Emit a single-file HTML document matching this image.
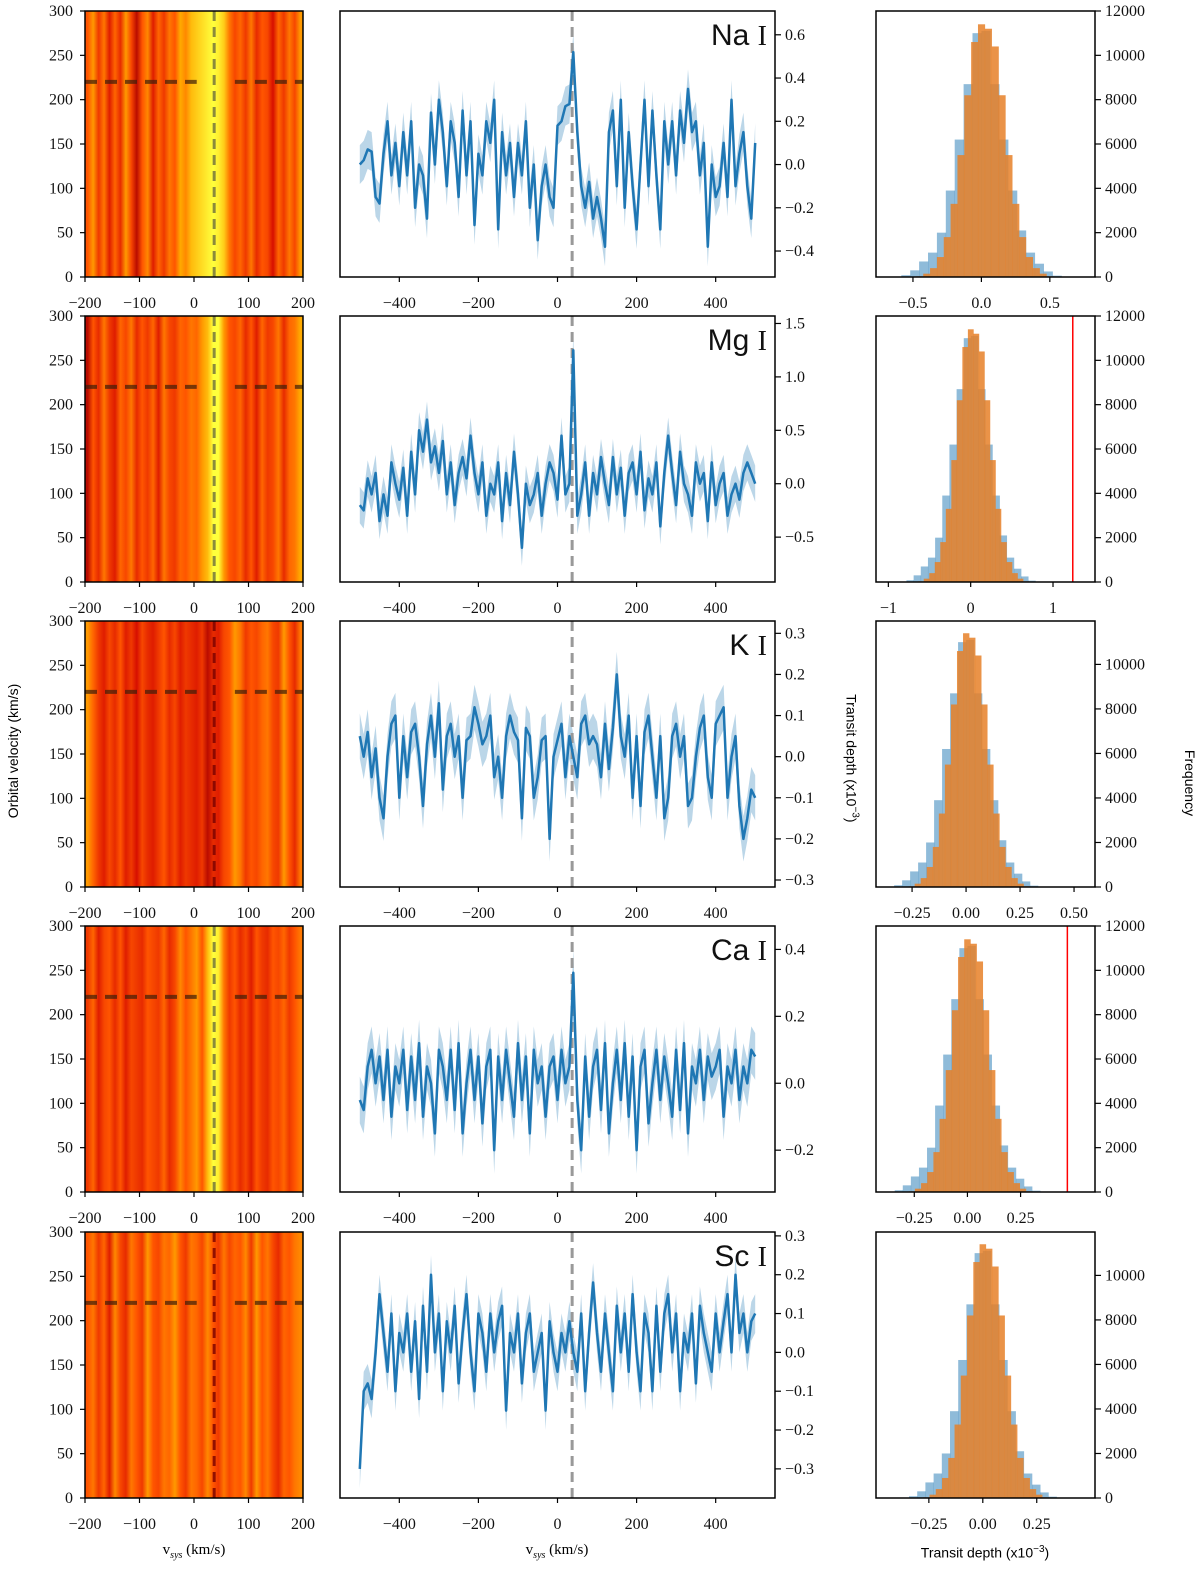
<!DOCTYPE html>
<html><head><meta charset="utf-8"><style>
html,body{margin:0;padding:0;background:#fff;}
svg{display:block;}
text{font-family:"Liberation Serif",serif;font-size:16px;fill:#111;}
.sans{font-family:"Liberation Sans","DejaVu Sans",sans-serif;}
</style></head><body>
<svg id="fig" width="1200" height="1596" viewBox="0 0 1200 1596" xmlns="http://www.w3.org/2000/svg"><defs id="defs"></defs></svg>
<script>
const species = ["Na","Mg","K","Ca","Sc"];
const velocities = [-500,-490,-480,-470,-460,-450,-440,-430,-420,-410,-400,-390,-380,-370,-360,-350,-340,-330,-320,-310,-300,-290,-280,-270,-260,-250,-240,-230,-220,-210,-200,-190,-180,-170,-160,-150,-140,-130,-120,-110,-100,-90,-80,-70,-60,-50,-40,-30,-20,-10,0,10,20,30,40,50,60,70,80,90,100,110,120,130,140,150,160,170,180,190,200,210,220,230,240,250,260,270,280,290,300,310,320,330,340,350,360,370,380,390,400,410,420,430,440,450,460,470,480,490,500];
const depthNa = [0.0,0.02,0.07,0.06,-0.15,-0.18,0.05,0.2,-0.05,0.1,-0.1,0.15,-0.05,0.2,-0.2,0.0,-0.05,-0.25,0.24,0.0,0.3,0.15,-0.1,0.2,0.1,-0.15,0.25,-0.05,0.2,-0.28,0.05,-0.05,0.2,0.1,0.3,-0.3,0.15,-0.05,0.1,-0.15,0.1,-0.05,0.2,-0.2,0.0,-0.35,-0.1,0.0,-0.15,-0.2,0.18,0.2,0.27,0.28,0.52,0.15,-0.1,-0.2,-0.08,-0.25,-0.15,-0.25,-0.38,0.15,0.25,-0.1,0.3,-0.2,0.15,-0.1,-0.3,0.0,0.3,-0.1,0.25,-0.05,-0.3,0.2,0.0,0.2,-0.05,0.25,0.1,0.35,0.15,0.2,-0.05,0.1,-0.38,0.0,-0.15,-0.1,0.1,-0.15,0.3,-0.1,0.05,0.15,-0.1,-0.25,0.1];
const depthMg = [-0.2,-0.25,0.05,-0.1,0.1,-0.35,-0.1,-0.3,0.2,0.0,-0.15,0.15,-0.3,0.3,-0.1,0.5,0.3,0.6,0.2,0.35,0.1,0.4,-0.1,0.2,-0.2,0.1,0.25,0.05,0.45,0.1,-0.1,0.2,-0.3,0.0,-0.1,0.2,-0.35,0.1,-0.2,0.3,-0.1,-0.6,0.0,-0.2,-0.1,0.1,-0.3,0.0,0.2,0.1,-0.15,0.45,-0.1,0.0,1.25,-0.3,-0.1,0.2,-0.3,0.1,-0.1,0.25,0.0,-0.2,0.25,-0.1,0.15,-0.3,0.1,0.2,-0.1,0.3,-0.25,0.05,-0.1,0.2,-0.4,0.1,0.45,0.1,-0.2,0.3,0.0,-0.1,-0.3,0.2,0.0,0.1,-0.35,0.2,-0.2,0.0,0.1,-0.3,-0.1,0.0,-0.15,0.1,0.2,0.1,0.0];
const depthK = [0.05,0.0,0.06,-0.05,0.02,-0.1,-0.15,0.0,0.08,0.1,-0.1,0.05,-0.05,0.06,0.08,0.0,-0.12,0.03,0.1,0.0,0.13,-0.08,0.05,0.08,0.0,0.05,-0.1,0.04,0.05,0.12,0.08,0.03,0.05,0.1,-0.05,0.0,-0.1,0.05,0.1,0.06,0.04,-0.15,0.07,0.05,-0.1,-0.05,0.04,0.05,-0.2,0.0,0.04,0.08,-0.05,0.05,0.0,-0.05,0.08,0.1,0.03,0.05,0.03,-0.05,0.08,-0.03,0.07,0.2,0.05,0.0,0.1,-0.1,0.05,-0.12,0.06,0.1,0.0,-0.1,0.05,-0.15,-0.1,0.05,0.08,0.0,0.05,-0.12,-0.1,0.0,0.07,0.1,-0.05,-0.1,0.08,0.1,0.12,-0.1,0.0,0.05,-0.12,-0.2,-0.15,-0.08,-0.1];
const depthCa = [-0.05,-0.08,0.05,0.1,0.0,0.08,-0.05,0.1,-0.1,0.05,0.0,0.1,-0.08,0.08,-0.05,0.12,-0.1,0.05,0.0,-0.15,0.1,0.05,-0.05,0.1,-0.08,0.12,-0.15,0.0,0.1,-0.05,0.08,-0.12,0.05,0.1,-0.2,0.08,-0.05,0.1,0.0,-0.1,0.12,-0.05,0.08,-0.15,0.1,0.0,0.05,-0.1,0.05,0.08,-0.05,0.1,0.0,0.05,0.33,-0.05,-0.2,0.08,-0.1,0.05,0.1,-0.08,0.12,-0.15,0.0,0.1,-0.05,0.12,-0.1,0.08,-0.2,0.05,0.1,-0.12,0.0,0.1,-0.05,0.08,0.0,-0.1,0.1,-0.08,0.12,-0.15,0.05,0.0,0.1,-0.05,0.08,0.02,0.05,0.1,-0.1,0.05,0.0,0.1,-0.05,0.05,0.0,0.1,0.08];
const depthSc = [-0.3,-0.1,-0.08,-0.12,0.0,0.15,0.05,-0.05,0.1,-0.1,0.05,0.0,0.1,-0.05,0.08,-0.12,0.12,-0.05,0.2,0.0,0.1,-0.1,0.08,0.0,0.12,-0.08,0.05,0.15,0.0,-0.1,0.1,0.05,-0.05,0.1,0.0,0.08,0.12,-0.15,0.05,0.0,0.1,-0.08,0.05,0.1,-0.05,0.0,0.05,-0.15,0.08,0.0,-0.05,0.05,0.0,0.08,0.0,-0.05,0.1,-0.1,0.05,0.18,0.05,-0.05,0.1,0.0,-0.1,0.12,0.0,0.1,-0.05,0.15,0.0,-0.1,0.1,0.05,-0.1,0.12,-0.05,0.1,0.15,0.0,0.1,-0.1,0.05,0.0,0.1,-0.08,0.12,0.05,0.0,-0.05,0.1,0.0,0.08,0.15,0.0,0.2,0.05,0.1,0.0,0.08,0.1];
const bandErr = [0.09,0.17,0.055,0.07,0.05];
const midYMin = [-0.52,-0.92,-0.317,-0.325,-0.375];
const midYMax = [0.71,1.57,0.33,0.47,0.31];
const midYTicks = [[-0.4,-0.2,0.0,0.2,0.4,0.6],[-0.5,0.0,0.5,1.0,1.5],[-0.3,-0.2,-0.1,0.0,0.1,0.2,0.3],[-0.2,0.0,0.2,0.4],[-0.3,-0.2,-0.1,0.0,0.1,0.2,0.3]];
const midYDec = [1,1,1,1,1];
const midXTicks = [-400,-200,0,200,400];
const heatCols = [-200,-190,-180,-170,-160,-150,-140,-130,-120,-110,-100,-90,-80,-70,-60,-50,-40,-30,-20,-10,0,10,20,30,40,50,60,70,80,90,100,110,120,130,140,150,160,170,180,190];
const heatNa = [0.5,0.7,0.4,0.6,0.3,0.55,0.35,0.7,0.45,0.2,0.5,0.65,0.3,0.55,0.4,0.6,0.5,0.75,0.65,0.8,0.85,0.9,0.95,1.0,0.95,0.85,0.6,0.45,0.55,0.4,0.6,0.35,0.5,0.45,0.25,0.55,0.4,0.6,0.45,0.7];
const heatMg = [0.2,0.5,0.35,0.6,0.4,0.3,0.55,0.45,0.6,0.35,0.5,0.4,0.55,0.3,0.6,0.45,0.4,0.55,0.5,0.6,0.55,0.7,0.8,1.0,1.0,0.7,0.5,0.45,0.55,0.35,0.5,0.3,0.55,0.4,0.45,0.6,0.35,0.55,0.6,0.75];
const heatK = [0.7,0.55,0.4,0.3,0.45,0.35,0.5,0.3,0.4,0.25,0.45,0.35,0.3,0.4,0.5,0.35,0.45,0.3,0.4,0.35,0.3,0.4,0.2,0.35,0.3,0.45,0.5,0.7,0.6,0.4,0.5,0.45,0.55,0.6,0.45,0.4,0.7,0.5,0.35,0.6];
const heatCa = [0.4,0.55,0.3,0.45,0.5,0.35,0.5,0.3,0.45,0.4,0.35,0.5,0.45,0.4,0.55,0.35,0.45,0.65,0.5,0.6,0.7,0.5,0.8,1.0,0.95,0.6,0.4,0.5,0.35,0.45,0.3,0.5,0.4,0.35,0.5,0.45,0.55,0.4,0.5,0.6];
const heatSc = [0.5,0.6,0.4,0.55,0.3,0.65,0.45,0.35,0.6,0.5,0.4,0.7,0.5,0.45,0.6,0.55,0.7,0.5,0.4,0.6,0.55,0.45,0.65,0.5,0.4,0.6,0.45,0.55,0.5,0.65,0.4,0.7,0.5,0.6,0.45,0.35,0.55,0.5,0.6,0.65];
const heatXTicks = [-200,-100,0,100,200];
const heatYTicks = [0,50,100,150,200,250,300];
const planetV = 37;
const orbitLine = 220;
const blueCounts = [80,300,700,1100,2000,3900,6200,8700,11000,11100,8700,6200,3900,2100,1100,600,250,60];
const orangeCounts = [30,150,400,900,1800,3300,5500,8200,10600,11400,11200,10400,8200,5500,3300,1800,900,400,150,30];
const blueStart = [-0.585,-0.78,-0.333,-0.342,-0.342];
const blueWidth = [0.065,0.087,0.037,0.038,0.038];
const orangeStart = [-0.475,-0.637,-0.266,-0.276,-0.276];
const orangeWidth = [0.05,0.067,0.028,0.029,0.029];
const histXMin = [-0.77,-1.15,-0.417,-0.43,-0.495];
const histXMax = [0.83,1.51,0.597,0.6,0.52];
const histYMax = [12000,12000,11950,12000,11950];
const histXTicks = [[-0.5,0.0,0.5],[-1,0,1],[-0.25,0.0,0.25,0.5],[-0.25,0.0,0.25],[-0.25,0.0,0.25]];
const histXDec = [1,0,2,2,2];
const histYTicks = [0,2000,4000,6000,8000,10000,12000];
const redLine = [null,1.24,null,0.47,null];

const NS="http://www.w3.org/2000/svg";
const svg=document.getElementById('fig');
const defs=document.getElementById('defs');
function mk(tag,attrs,parent){const e=document.createElementNS(NS,tag);for(const k in attrs)e.setAttribute(k,attrs[k]);(parent||svg).appendChild(e);return e;}
function fmt(v,d){const s=Math.abs(v).toFixed(d);return (v<0?'\u2212':'')+s;}
const rowTop=[11,316,621,926,1232];const H=266;
const L={x0:85,x1:303},M={x0:340,x1:775},R={x0:876,x1:1095};
const depths=[depthNa,depthMg,depthK,depthCa,depthSc];
const heats=[heatNa,heatMg,heatK,heatCa,heatSc];
const cmap=[[0,[70,0,0]],[0.25,[215,15,0]],[0.5,[255,85,0]],[0.75,[255,170,0]],[1,[255,255,60]]];
function color(v){for(let i=1;i<cmap.length;i++){if(v<=cmap[i][0]){const a=cmap[i-1],b=cmap[i];const t=(v-a[0])/(b[0]-a[0]);const c=a[1].map((x,j)=>Math.round(x+(b[1][j]-x)*t));return `rgb(${c})`;}}return 'rgb(255,255,60)';}

for(let r=0;r<5;r++){
  const top=rowTop[r],bot=top+H;
  const g=mk('g',{});
  
  
  const hx=v=>L.x0+(v+200)/400*(L.x1-L.x0);
  const hy=v=>bot-v/300*H;
  const grad=mk('linearGradient',{id:'hg'+r,gradientUnits:'userSpaceOnUse',x1:L.x0,x2:L.x1,y1:0,y2:0},defs);
  heats[r].forEach((v,i)=>{
    const off=(hx(heatCols[i]+5)-L.x0)/(L.x1-L.x0);
    mk('stop',{offset:off.toFixed(4),'stop-color':color(v)},grad);
  });
  const hm=mk('rect',{x:L.x0,y:top,width:L.x1-L.x0,height:H,fill:'url(#hg'+r+')'},g);
  
  
  const vcol=(r==2||r==4)?'rgba(120,0,0,0.8)':'rgba(90,90,60,0.7)';
  const vl=mk('line',{x1:hx(planetV),x2:hx(planetV),y1:top,y2:bot,stroke:vcol,'stroke-width':3,'stroke-dasharray':'10,6'},g);
  
  
  [[-200,5],[75,200]].forEach(s=>{
    const hl=mk('line',{x1:hx(s[0]),x2:hx(s[1]),y1:hy(orbitLine),y2:hy(orbitLine),stroke:'rgba(60,30,10,0.7)','stroke-width':4,'stroke-dasharray':'12,8'},g);
    
    
  });
  mk('rect',{x:L.x0,y:top,width:L.x1-L.x0,height:H,fill:'none',stroke:'#000','stroke-width':1.5},g);
  heatXTicks.forEach(t=>{mk('line',{x1:hx(t),x2:hx(t),y1:bot,y2:bot+5,stroke:'#000','stroke-width':1.2},g);
    const tx=mk('text',{x:hx(t),y:bot+31,'text-anchor':'middle'},g);tx.textContent=fmt(t,0);
    });
  heatYTicks.forEach(t=>{mk('line',{x1:L.x0-5,x2:L.x0,y1:hy(t),y2:hy(t),stroke:'#000','stroke-width':1.2},g);
    const tx=mk('text',{x:L.x0-12,y:hy(t)+5,'text-anchor':'end'},g);tx.textContent=t;
    });

  const mg=mk('g',{});
  
  
  const mx=v=>M.x0+(v+550)/1100*(M.x1-M.x0);
  const my=v=>bot-(v-midYMin[r])/(midYMax[r]-midYMin[r])*H;
  const d=depths[r],e=bandErr[r];
  let up='',dn='';
  velocities.forEach((v,i)=>{up+=(i?'L':'M')+mx(v).toFixed(1)+','+my(d[i]+e).toFixed(1);});
  for(let i=velocities.length-1;i>=0;i--){dn+='L'+mx(velocities[i]).toFixed(1)+','+my(d[i]-e).toFixed(1);}
  const band=mk('path',{d:up+dn+'Z',fill:'rgba(31,119,180,0.3)'},mg);
  
  
  const vline=mk('line',{x1:mx(planetV),x2:mx(planetV),y1:top,y2:bot,stroke:'#999','stroke-width':3,'stroke-dasharray':'10,6'},mg);
  
  
  const pl=mk('polyline',{points:velocities.map((v,i)=>mx(v).toFixed(1)+','+my(d[i]).toFixed(1)).join(' '),fill:'none',stroke:'#1f77b4','stroke-width':2.5,'stroke-linejoin':'round'},mg);
  
  
  mk('rect',{x:M.x0,y:top,width:M.x1-M.x0,height:H,fill:'none',stroke:'#000','stroke-width':1.5},mg);
  midXTicks.forEach(t=>{mk('line',{x1:mx(t),x2:mx(t),y1:bot,y2:bot+5,stroke:'#000','stroke-width':1.2},mg);
    const tx=mk('text',{x:mx(t),y:bot+31,'text-anchor':'middle'},mg);tx.textContent=fmt(t,0);
    });
  midYTicks[r].forEach(t=>{mk('line',{x1:M.x1,x2:M.x1+6,y1:my(t),y2:my(t),stroke:'#000','stroke-width':1.2},mg);
    const tx=mk('text',{x:M.x1+10,y:my(t)+5},mg);tx.textContent=fmt(t,midYDec[r]);
    });
  const lab=mk('text',{x:767,y:top+34,'text-anchor':'end','font-size':30},mg);
  
  const t1=mk('tspan',{class:'sans','font-size':30},lab);t1.textContent=species[r]+' ';
  const t2=mk('tspan',{'font-size':28},lab);t2.textContent='I';

  const hg=mk('g',{});
  
  
  const rx=v=>R.x0+(v-histXMin[r])/(histXMax[r]-histXMin[r])*(R.x1-R.x0);
  const ry=v=>bot-v/histYMax[r]*H;
  blueCounts.forEach((c,i)=>{const x0=rx(blueStart[r]+i*blueWidth[r]),x1=rx(blueStart[r]+(i+1)*blueWidth[r]);
    const b=mk('rect',{x:x0,y:ry(c),width:x1-x0+0.3,height:bot-ry(c),fill:'rgba(31,119,180,0.5)'},hg);
    });
  orangeCounts.forEach((c,i)=>{const x0=rx(orangeStart[r]+i*orangeWidth[r]),x1=rx(orangeStart[r]+(i+1)*orangeWidth[r]);
    const b=mk('rect',{x:x0,y:ry(c),width:x1-x0+0.3,height:bot-ry(c),fill:'rgba(230,128,40,0.85)'},hg);
    });
  if(redLine[r]!==null){const rl=mk('line',{x1:rx(redLine[r]),x2:rx(redLine[r]),y1:top,y2:bot,stroke:'#f00','stroke-width':1.5},hg);
    }
  mk('rect',{x:R.x0,y:top,width:R.x1-R.x0,height:H,fill:'none',stroke:'#000','stroke-width':1.5},hg);
  histXTicks[r].forEach(t=>{mk('line',{x1:rx(t),x2:rx(t),y1:bot,y2:bot+5,stroke:'#000','stroke-width':1.2},hg);
    const tx=mk('text',{x:rx(t),y:bot+31,'text-anchor':'middle'},hg);tx.textContent=fmt(t,histXDec[r]);
    });
  histYTicks.forEach(t=>{if(t>histYMax[r])return;mk('line',{x1:R.x1,x2:R.x1+6,y1:ry(t),y2:ry(t),stroke:'#000','stroke-width':1.2},hg);
    const tx=mk('text',{x:R.x1+10,y:ry(t)+5},hg);tx.textContent=t;
    });
}
</script>
<div style="position:absolute;left:0;top:0;width:1200px;height:1596px;pointer-events:none;">
<div style="position:absolute;left:-82px;top:743px;width:190px;text-align:center;transform:rotate(-90deg);font:14px 'Liberation Sans',sans-serif;">Orbital velocity (km/s)</div>
<div style="position:absolute;left:752px;top:750px;width:200px;text-align:center;transform:rotate(90deg);font:14px 'Liberation Sans',sans-serif;">Transit depth (x10<sup style="font-size:10px">−3</sup>)</div>
<div style="position:absolute;left:1140px;top:775px;width:100px;text-align:center;transform:rotate(90deg);font:14px 'Liberation Sans',sans-serif;">Frequency</div>
<div style="position:absolute;left:124px;top:1542px;width:140px;text-align:center;font:15px 'Liberation Serif',serif;">v<sub style="font-size:10px"><i>sys</i></sub> (km/s)</div>
<div style="position:absolute;left:487px;top:1542px;width:140px;text-align:center;font:15px 'Liberation Serif',serif;">v<sub style="font-size:10px"><i>sys</i></sub> (km/s)</div>
<div style="position:absolute;left:885px;top:1544px;width:200px;text-align:center;font:14px 'Liberation Sans',sans-serif;">Transit depth (x10<sup style="font-size:10px">−3</sup>)</div>
</div>
</body></html>
